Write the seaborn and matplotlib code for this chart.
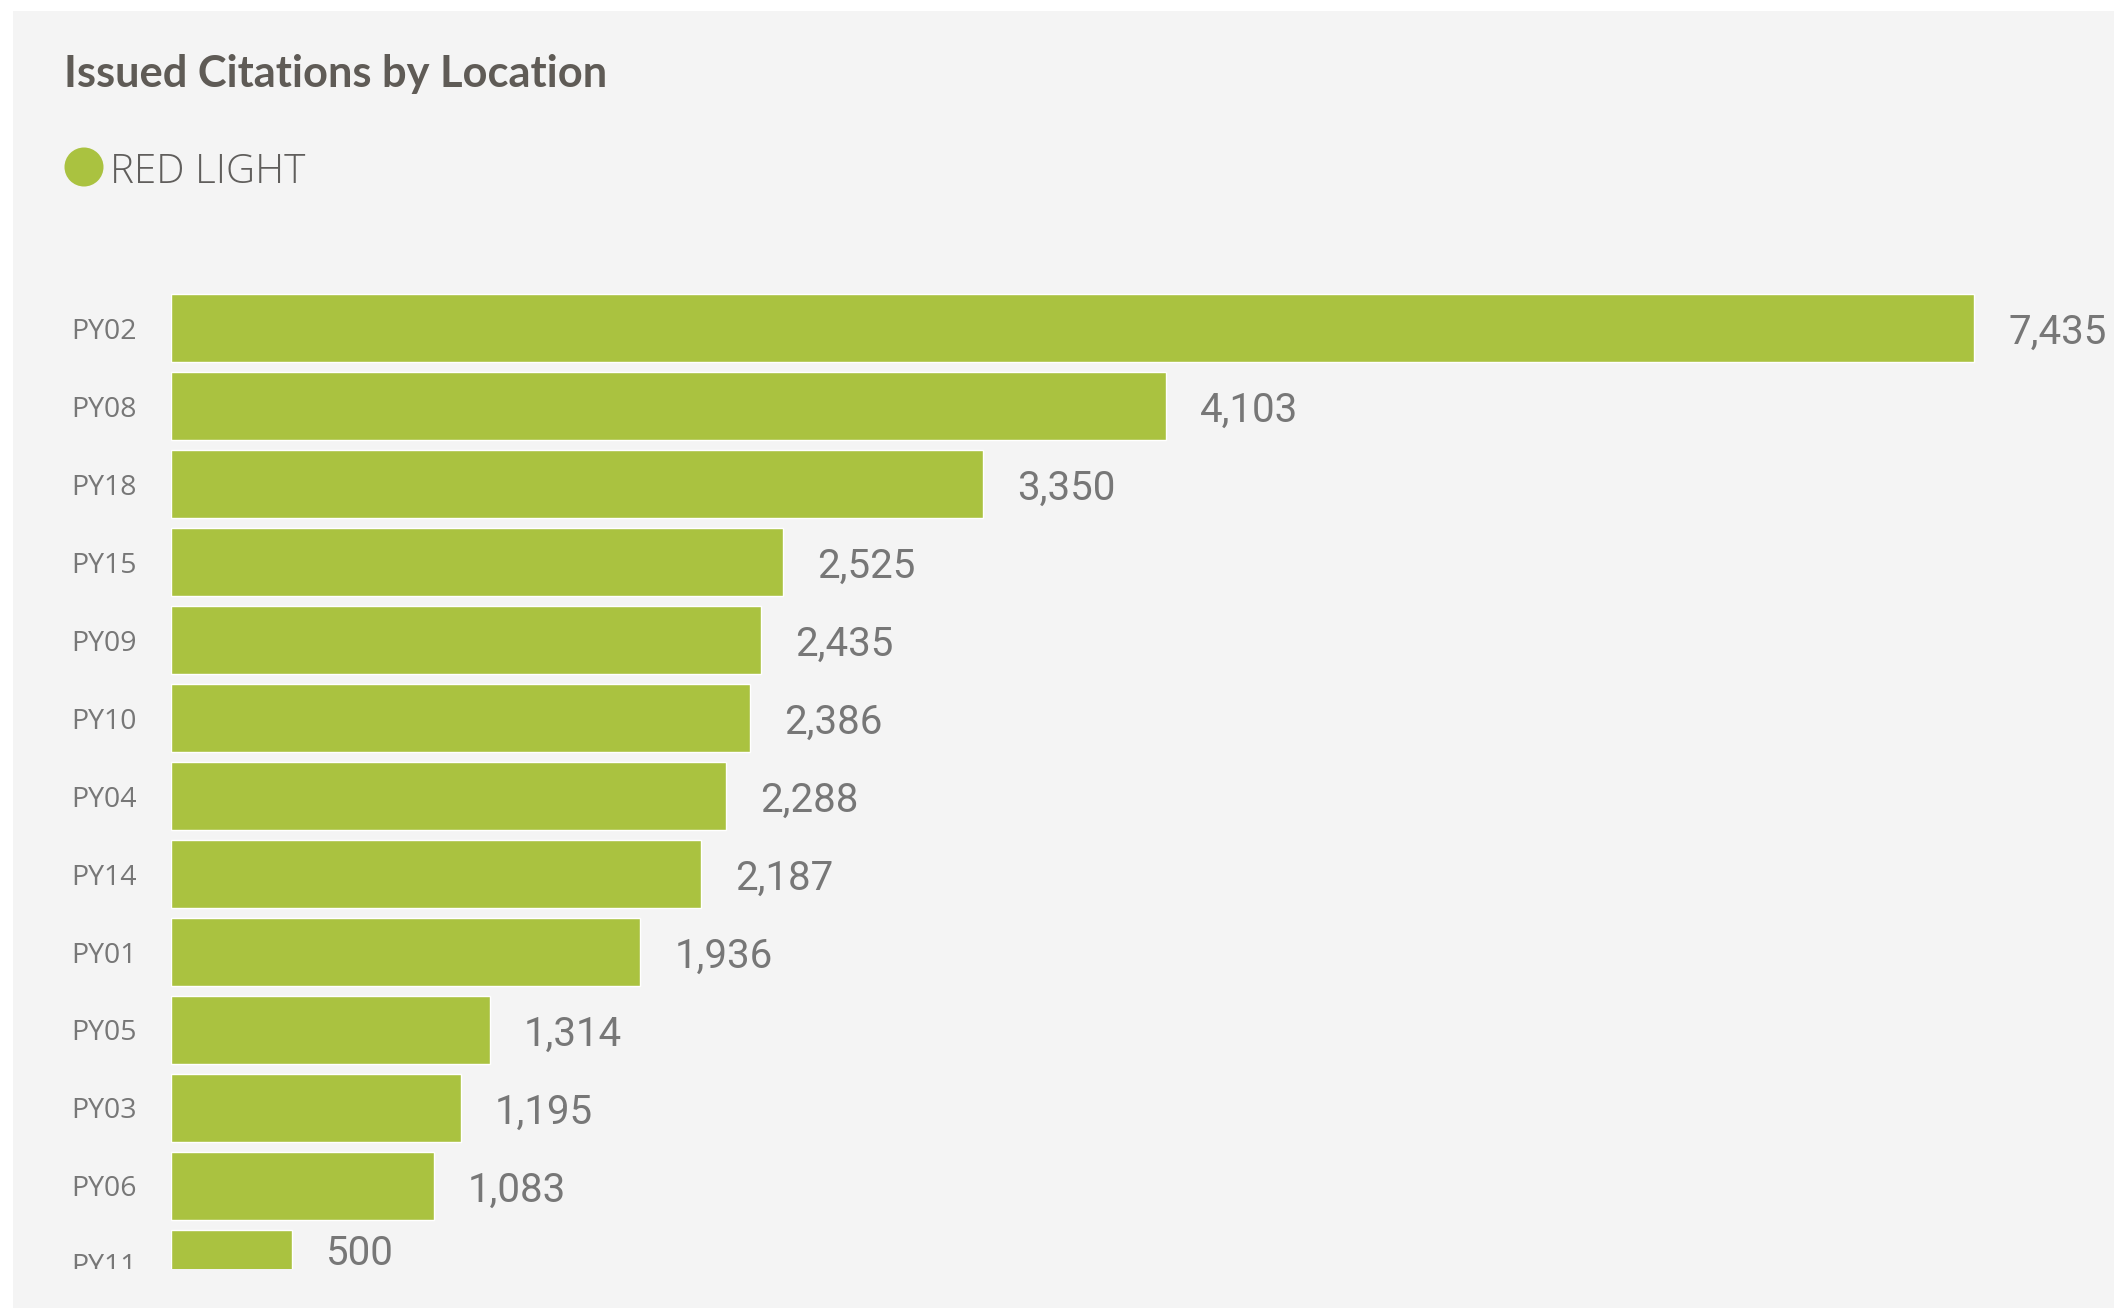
import matplotlib
matplotlib.use("Agg")
import matplotlib.pyplot as plt
from matplotlib.patches import Rectangle, Ellipse
from matplotlib.transforms import Bbox, TransformedBbox
import seaborn as sns
import pandas as pd

# data
locations = ["PY02", "PY08", "PY18", "PY15", "PY09", "PY10", "PY04",
             "PY14", "PY01", "PY05", "PY03", "PY06", "PY11"]
citations = [7435, 4103, 3350, 2525, 2435, 2386, 2288, 2187, 1936,
             1314, 1195, 1083, 500]
series_name = "RED LIGHT"
title = "Issued Citations by Location"

df = pd.DataFrame({"Location": locations, "Citations": citations})

GREEN = "#AAC240"
PANEL = "#F4F4F4"
W, H = 2114, 1312

sns.set_style("white")
plt.rcParams["font.family"] = ["Open Sans", "DejaVu Sans"]

fig = plt.figure(figsize=(W / 100, H / 100), dpi=100)
fig.patch.set_facecolor("white")
fig.add_artist(Rectangle((13 / W, 1 - 1308 / H), 1, (1308 - 11) / H,
                         transform=fig.transFigure, facecolor=PANEL,
                         edgecolor="none", zorder=-10))

# axes area in pixels: x 171..2000, y 289..1269
ax_l, ax_r, ax_t, ax_b = 171, 2000, 289, 1269
ax = fig.add_axes([ax_l / W, 1 - ax_b / H, (ax_r - ax_l) / W, (ax_b - ax_t) / H])
ax.set_facecolor("none")

bar_h = 68 / 78
sns.barplot(data=df, x="Citations", y="Location", orient="h", color=GREEN,
            saturation=1, width=bar_h, ax=ax)

y_bottom = len(locations) - 1 + 5 / 78
ax.set_ylim(y_bottom, -0.5)
ax.set_xlim(0, max(citations) * (ax_r - ax_l) / 1803)

for s in ax.spines.values():
    s.set_visible(False)
ax.set_xticks([])
ax.set_xlabel("")
ax.set_ylabel("")
ax.tick_params(axis="y", length=0, pad=25, labelsize=20.5, labelcolor="#777777")

# labels cut at the bottom edge like a scrolled visual
clip = TransformedBbox(Bbox([[0, 1 - ax_b / H], [1, 1]]), fig.transFigure)
for lbl in ax.get_yticklabels():
    lbl.set_clip_box(clip)
    lbl.set_clip_on(True)

# value labels
for i, v in enumerate(citations):
    top = max(i - bar_h / 2, -0.5)
    bot = min(i + bar_h / 2, y_bottom)
    yc = (top + bot) / 2
    ax.annotate(f"{v:,}", xy=(v, yc), xytext=(24.5, 0),
                textcoords="offset points", va="center_baseline", ha="left",
                fontsize=29, color="#777777",
                family=["Roboto", "DejaVu Sans"], annotation_clip=False)

# title and legend
fig.text(64 / W, 1 - 87 / H, title, fontsize=31.2, fontweight="bold",
         color="#5F5B56", va="baseline", ha="left",
         family=["Lato", "DejaVu Sans"])
fig.add_artist(Ellipse((84 / W, 1 - 167 / H), 39 / W, 39 / H,
                       transform=fig.transFigure, facecolor=GREEN,
                       edgecolor="none"))
fig.text(110 / W, 1 - 183 / H, series_name, fontsize=29, fontweight="light",
         color="#605E5C", va="baseline", ha="left")

fig.savefig("out.png", dpi=100, facecolor=fig.get_facecolor())
